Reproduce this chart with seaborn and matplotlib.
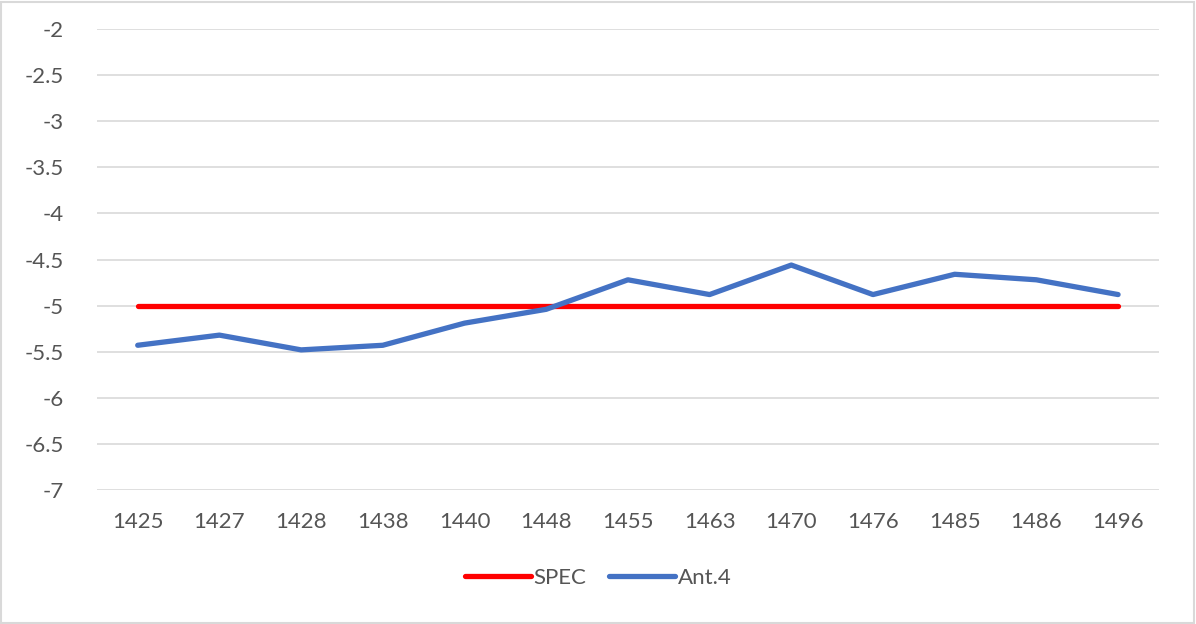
import matplotlib
matplotlib.use("Agg")
import matplotlib.pyplot as plt
import seaborn as sns
import pandas as pd
from matplotlib.patches import Rectangle

channels = ["1425", "1427", "1428", "1438", "1440", "1448", "1455",
            "1463", "1470", "1476", "1485", "1486", "1496"]
spec = [-5, -5, -5, -5, -5, -5, -5, -5, -5, -5, -5, -5, -5]
ant4 = [-5.43, -5.32, -5.48, -5.43, -5.19, -5.04, -4.72,
        -4.88, -4.56, -4.88, -4.66, -4.72, -4.88]
y_ticks = [-2, -2.5, -3, -3.5, -4, -4.5, -5, -5.5, -6, -6.5, -7]

df = pd.concat([
    pd.DataFrame({"channel": channels, "value": spec, "series": "SPEC"}),
    pd.DataFrame({"channel": channels, "value": ant4, "series": "Ant.4"}),
])

sns.set_theme(style="white")
plt.rcParams["font.family"] = ["Lato", "DejaVu Sans"]

text_color = "#555555"
grid_color = "#d9d9d9"

fig = plt.figure(figsize=(11.96, 6.24), dpi=100)
ax = fig.add_axes([0.081, 0.2147, 0.888, 0.7388])

sns.lineplot(data=df, x="channel", y="value", hue="series", sort=False,
             palette={"SPEC": "#ff0000", "Ant.4": "#4472c4"},
             linewidth=3.8, ax=ax, legend=False)
for line in ax.lines:
    line.set_solid_capstyle("round")

ax.set_xlim(-0.5, len(channels) - 0.5)
ax.set_ylim(-7, -2)
ax.set_yticks(y_ticks)
ax.set_yticklabels([f"{v:g}" for v in y_ticks])
ax.yaxis.grid(True, color=grid_color, linewidth=1.2)
ax.set_axisbelow(True)
for s in ax.spines.values():
    s.set_visible(False)
ax.tick_params(axis="both", length=0, labelsize=16, colors=text_color)
ax.tick_params(axis="y", pad=24)
ax.tick_params(axis="x", pad=16)
ax.set_xlabel("")
ax.set_ylabel("")

handles = [plt.Line2D([], [], color="#ff0000", lw=3.8, solid_capstyle="round"),
           plt.Line2D([], [], color="#4472c4", lw=3.8, solid_capstyle="round")]
fig.legend(handles, ["SPEC", "Ant.4"], loc="center",
           bbox_to_anchor=(0.5, 1 - 578 / 624), ncol=2, frameon=False,
           fontsize=16, labelcolor=text_color, handlelength=3.0,
           handletextpad=0.1, columnspacing=1.0)

fig.patches.append(Rectangle((0.001, 0.002), 0.997, 0.995, transform=fig.transFigure,
                             fill=False, edgecolor=grid_color, linewidth=1.5))

fig.savefig("out.png", dpi=100)
